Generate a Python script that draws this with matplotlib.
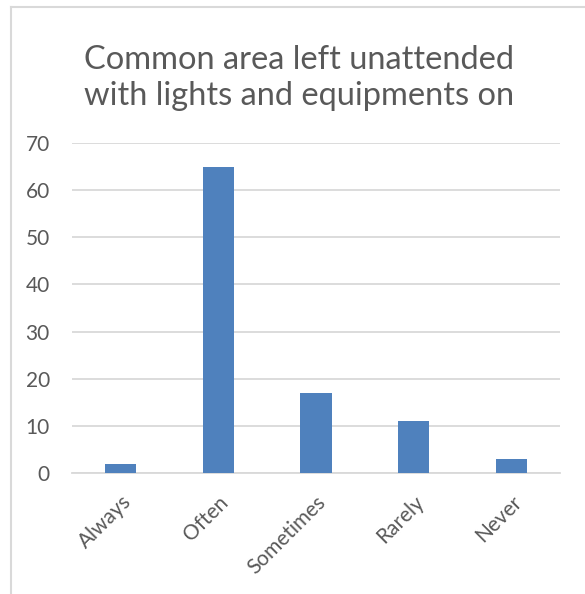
import matplotlib
matplotlib.use("Agg")
import matplotlib.pyplot as plt
from matplotlib.lines import Line2D
import matplotlib.transforms as mtransforms

categories = ["Always", "Often", "Sometimes", "Rarely", "Never"]
counts = [2, 65, 17, 11, 3]
yticks = [0, 10, 20, 30, 40, 50, 60, 70]
title = "Common area left unattended\nwith lights and equipments on"

BAR = "#4F81BD"
TEXT = "#595959"
GRID = "#D9D9D9"

plt.rcParams["font.family"] = ["Lato", "DejaVu Sans"]

W, H = 585, 594
fig = plt.figure(figsize=(W / 100, H / 100), dpi=100)
fig.patch.set_facecolor("white")

# chart-area frame (top and left edges)
fig.add_artist(Line2D([11 / W, 1.0], [1 - 7 / H, 1 - 7 / H], color=GRID, lw=1.5,
                      transform=fig.transFigure))
fig.add_artist(Line2D([11 / W, 11 / W], [0.0, 1 - 7 / H], color=GRID, lw=1.5,
                      transform=fig.transFigure))

ax = fig.add_axes([72 / W, 1 - 473 / H, 488 / W, 330 / H])
x = list(range(len(categories)))
ax.bar(x, counts, width=0.32, color=BAR, zorder=3)

ax.set_xlim(-0.5, len(categories) - 0.5)
ax.set_ylim(0, 70)
ax.set_yticks(yticks)
ax.set_yticklabels([str(v) for v in yticks])
ax.yaxis.grid(True, color=GRID, lw=1.3, zorder=0)
ax.set_axisbelow(True)
for s in ["top", "right", "left"]:
    ax.spines[s].set_visible(False)
ax.spines["bottom"].set_color(GRID)
ax.spines["bottom"].set_linewidth(1.3)
ax.tick_params(axis="both", length=0, colors=TEXT, labelsize=15)
ax.tick_params(axis="y", pad=16)

ax.set_xticks(x)
ax.set_xticklabels(categories, rotation=45, ha="right", rotation_mode="anchor")
offset = mtransforms.ScaledTranslation(0 / 100, -14 / 100, fig.dpi_scale_trans)
for lbl in ax.get_xticklabels():
    lbl.set_transform(lbl.get_transform() + offset)

fig.text(299 / W, 1 - 78 / H, title, ha="center", va="center", fontsize=23.5,
         color=TEXT, linespacing=1.25)

fig.savefig("out.png", dpi=100, facecolor="white")
